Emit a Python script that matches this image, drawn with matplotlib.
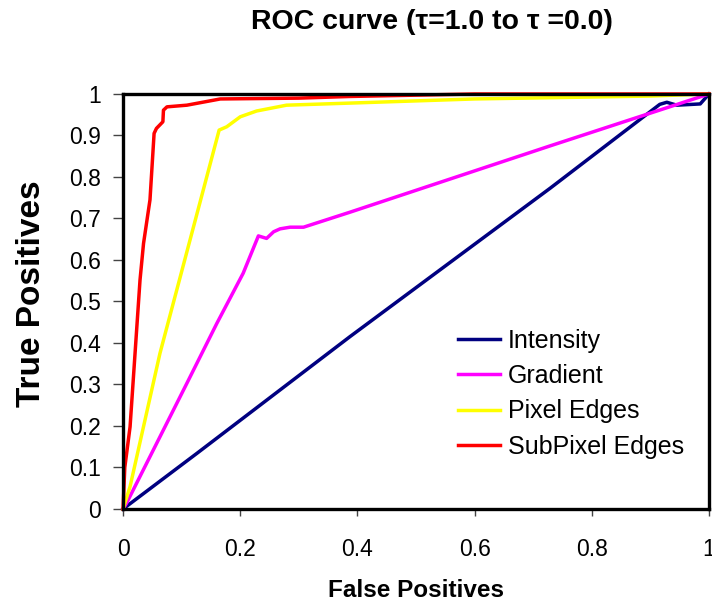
import matplotlib

matplotlib.use("Agg")
import matplotlib.pyplot as plt

plt.rcParams["font.family"] = ["Liberation Sans", "DejaVu Sans"]

# ROC points
intensity_fp = [0, 0.126, 0.387, 0.729, 0.916, 0.928, 0.945, 0.985, 1.0]
intensity_tp = [0, 0.134, 0.415, 0.773, 0.975, 0.98, 0.973, 0.976, 1.0]

gradient_fp = [0, 0.006, 0.109, 0.160, 0.205, 0.231, 0.245, 0.257, 0.268,
               0.285, 0.308, 0.387, 0.729, 1.0]
gradient_tp = [0, 0.014, 0.303, 0.447, 0.568, 0.658, 0.652, 0.668, 0.675,
               0.679, 0.679, 0.715, 0.875, 1.0]

pixel_fp = [0, 0.012, 0.063, 0.131, 0.164, 0.177, 0.20, 0.228, 0.279, 0.387,
            0.6, 0.9, 1.0]
pixel_tp = [0, 0.054, 0.375, 0.737, 0.913, 0.921, 0.945, 0.959, 0.973, 0.978,
            0.988, 0.995, 1.0]

subpixel_fp = [0, 0.003, 0.012, 0.029, 0.035, 0.046, 0.053, 0.057, 0.068,
               0.069, 0.075, 0.109, 0.166, 0.30, 0.387, 0.6, 1.0]
subpixel_tp = [0, 0.10, 0.198, 0.552, 0.64, 0.745, 0.905, 0.917, 0.933,
               0.961, 0.969, 0.973, 0.988, 0.99, 0.994, 1.0, 1.0]

series = [
    ("Intensity", intensity_fp, intensity_tp, "#000080"),
    ("Gradient", gradient_fp, gradient_tp, "#ff00ff"),
    ("Pixel Edges", pixel_fp, pixel_tp, "#ffff00"),
    ("SubPixel Edges", subpixel_fp, subpixel_tp, "#ff0000"),
]

x_ticks = [0, 0.2, 0.4, 0.6, 0.8, 1.0]
y_ticks = [0, 0.1, 0.2, 0.3, 0.4, 0.5, 0.6, 0.7, 0.8, 0.9, 1.0]

fig = plt.figure(figsize=(7.12, 6.02), dpi=100)
ax = fig.add_axes([0.1728, 0.1545, 0.823, 0.6894])

for label, fp, tp, color in series:
    ax.plot(fp, tp, color=color, lw=2.5, label=label, clip_on=False,
            solid_joinstyle="round")

ax.set_xlim(0, 1)
ax.set_ylim(0, 1)
ax.set_xticks(x_ticks)
ax.set_yticks(y_ticks)
ax.set_xticklabels(["0", "0.2", "0.4", "0.6", "0.8", "1"])
ax.set_yticklabels(["0", "0.1", "0.2", "0.3", "0.4", "0.5", "0.6", "0.7",
                    "0.8", "0.9", "1"])
ax.tick_params(axis="x", direction="out", length=5, width=1, color="#444444",
               labelsize=16.5, pad=16)
ax.tick_params(axis="y", direction="out", length=7, width=1, color="#444444",
               labelsize=16.5, pad=9)

for spine in ax.spines.values():
    spine.set_linewidth(2.4)
    spine.set_color("black")

ax.set_xlabel("False Positives", fontsize=17.5, fontweight="bold")
ax.xaxis.set_label_coords(0.5, -0.168)
ax.set_ylabel("True Positives", fontsize=24, fontweight="bold")
ax.yaxis.set_label_coords(-0.13, 0.519)

fig.text(432 / 712, 1 - 22 / 602, "ROC curve (τ=1.0 to τ =0.0)",
         fontsize=20.5, fontweight="bold", ha="center", va="center")

ax.legend(loc="lower left", bbox_to_anchor=(0.55, 0.091), frameon=False,
          fontsize=18, handlelength=1.7, handletextpad=0.3, labelspacing=0.45,
          borderpad=0)

fig.savefig("out.png", dpi=100)
